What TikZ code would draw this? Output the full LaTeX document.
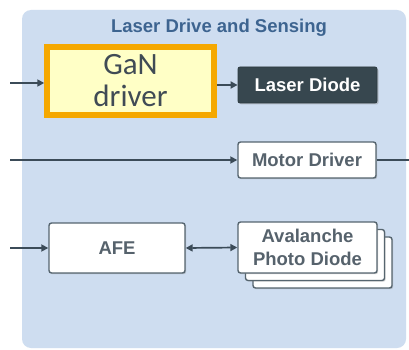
\documentclass[tikz,border=0pt]{standalone}
\usepackage{fontspec}
\setmainfont{Liberation Sans}
\newfontfamily\ganfont{Carlito}
\usetikzlibrary{arrows.meta,shadows}
\definecolor{panelblue}{HTML}{CEDDF0}
\definecolor{titleblue}{HTML}{3D6490}
\definecolor{linecol}{HTML}{3B4B58}
\definecolor{darkfill}{HTML}{37474F}
\definecolor{boxborder}{HTML}{56656F}
\definecolor{boxtext}{HTML}{56626C}
\definecolor{ganorange}{HTML}{F5A800}
\definecolor{ganyellow}{HTML}{FFFFC6}
\definecolor{gantext}{HTML}{404B55}
\tikzset{
  conn/.style={draw=linecol, line width=1.7pt, -{Triangle[length=7pt,width=7pt]}},
  biconn/.style={draw=linecol, line width=1.7pt, {Triangle[length=7pt,width=7pt]}-{Triangle[length=7pt,width=7pt]}},
  plainconn/.style={draw=linecol, line width=1.7pt},
  lbl/.style={font=\bfseries\fontsize{18.5}{20}\selectfont},
  whitebox/.style={draw=boxborder, fill=white, line width=1.4pt, rounded corners=2.5pt,
    text=boxtext, lbl, inner sep=0pt,
    drop shadow={shadow xshift=1.2pt, shadow yshift=-1.2pt, opacity=0.35}},
  darkbox/.style={draw=darkfill!80!black, fill=darkfill, line width=0.8pt, rounded corners=2pt,
    text=white, lbl, inner sep=0pt,
    drop shadow={shadow xshift=1.5pt, shadow yshift=-1.5pt, opacity=0.35}},
  ganbox/.style={draw=ganorange, fill=ganyellow, line width=5.5pt, inner sep=0pt,
    text=gantext, align=center, font=\ganfont\fontsize{31}{32}\selectfont},
}
\begin{document}
\begin{tikzpicture}[x=1pt,y=-1pt]
\useasboundingbox (0,0) rectangle (409,350);
\fill[white] (0,0) rectangle (409,350);
\fill[panelblue, rounded corners=9pt] (22,10) rectangle (406,348);
\node[text=titleblue, font=\bfseries\fontsize{18.5}{20}\selectfont] (title) at (219,28) {Laser Drive and Sensing};

% GaN driver
\node[ganbox, minimum width=167, minimum height=68] (gan) at (130.5,81) {GaN\\driver};
% Laser Diode
\node[darkbox, minimum width=139, minimum height=36] (ld) at (307.5,85) {Laser Diode};
% Motor Driver
\node[whitebox, minimum width=138, minimum height=36] (md) at (307,160) {Motor Driver};
% AFE
\node[whitebox, minimum width=136, minimum height=50] (afe) at (117,248) {AFE};
% APD stack
\node[whitebox, minimum width=139, minimum height=51] (apdc) at (322.5,262.5) {};
\node[whitebox, minimum width=139, minimum height=51] (apdb) at (315,255) {};
\node[whitebox, minimum width=139, minimum height=51, align=center,
      font=\bfseries\fontsize{18.5}{23}\selectfont] (apd) at (307.5,247.5) {Avalanche\\Photo Diode};

\coordinate (in1) at (10,83);
\coordinate (in2) at (10,160);
\coordinate (in3) at (10,248);
\coordinate (out2) at (409,160);

\draw[conn] (in1) -- (in1 -| gan.west);
\draw[conn] (gan.east |- ld.west) -- (ld.west);
\draw[conn] (in2) -- (md.west);
\draw[plainconn] (md.east) -- (out2);
\draw[conn] (in3) -- (afe.west);
\draw[biconn] (afe.east) -- (apd.west);
\end{tikzpicture}
\end{document}
